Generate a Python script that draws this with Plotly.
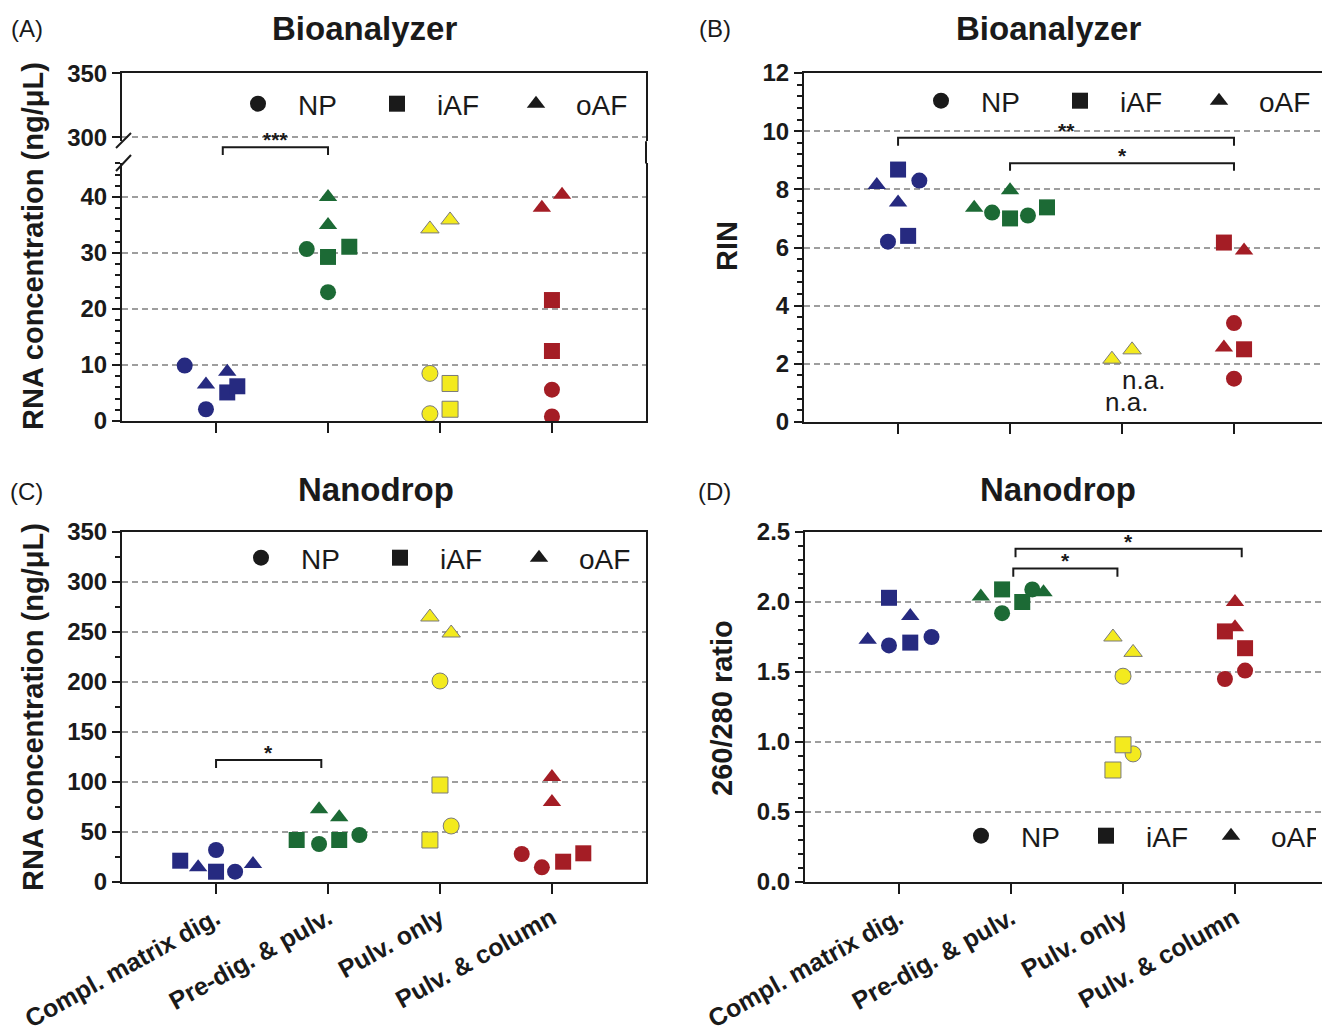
import plotly.graph_objects as go

W, H = 1322, 1026
FONT = "Liberation Sans, Arial, Helvetica, sans-serif"

categories = ["Compl. matrix dig.", "Pre-dig. & pulv.", "Pulv. only", "Pulv. & column"]
cat_colors = ["#262A80", "#1C6A35", "#F3EA1E", "#A41D25"]
cat_edge = ["#262A80", "#1C6A35", "#7A7A7A", "#A41D25"]
tissues = ["NP", "iAF", "oAF"]
tissue_symbols = {"NP": "circle", "iAF": "square", "oAF": "triangle-up"}

# ---- Panel A: Bioanalyzer RNA concentration (ng/uL) ----
a_cat = [0, 0, 0, 0, 0, 0, 1, 1, 1, 1, 1, 1, 2, 2, 2, 2, 2, 2, 3, 3, 3, 3, 3, 3]
a_tis = ["NP", "oAF", "NP", "oAF", "iAF", "iAF",
         "oAF", "oAF", "NP", "iAF", "iAF", "NP",
         "oAF", "oAF", "NP", "iAF", "NP", "iAF",
         "oAF", "oAF", "iAF", "iAF", "NP", "NP"]
a_val = [9.9, 6.5, 2.1, 8.8, 5.1, 6.2,
         40.0, 35.0, 30.7, 29.3, 31.1, 23.0,
         34.3, 35.9, 8.5, 6.7, 1.3, 2.1,
         38.1, 40.4, 21.6, 12.5, 5.6, 0.8]
a_off = [-0.28, -0.09, -0.09, 0.10, 0.10, 0.19,
         0.0, 0.0, -0.19, 0.0, 0.19, 0.0,
         -0.09, 0.09, -0.09, 0.09, -0.09, 0.09,
         -0.09, 0.09, 0.0, 0.0, 0.0, 0.0]

# ---- Panel B: Bioanalyzer RIN ----
b_cat = [0, 0, 0, 0, 0, 0, 1, 1, 1, 1, 1, 1, 2, 2, 3, 3, 3, 3, 3, 3]
b_tis = ["oAF", "iAF", "NP", "oAF", "NP", "iAF",
         "oAF", "NP", "iAF", "NP", "iAF", "oAF",
         "oAF", "oAF",
         "iAF", "oAF", "NP", "oAF", "iAF", "NP"]
b_val = [8.15, 8.68, 8.3, 7.55, 6.2, 6.4,
         7.37, 7.2, 7.0, 7.1, 7.38, 7.97,
         2.16, 2.48,
         6.17, 5.9, 3.4, 2.56, 2.5, 1.49]
b_off = [-0.19, 0.0, 0.19, 0.0, -0.09, 0.09,
         -0.32, -0.16, 0.0, 0.16, 0.33, 0.0,
         -0.09, 0.09,
         -0.09, 0.09, 0.0, -0.09, 0.09, 0.0]

# ---- Panel C: Nanodrop RNA concentration (ng/uL) ----
c_cat = a_cat
c_tis = ["iAF", "oAF", "NP", "iAF", "NP", "oAF",
         "iAF", "NP", "oAF", "oAF", "iAF", "NP",
         "oAF", "oAF", "NP", "iAF", "NP", "iAF",
         "oAF", "oAF", "NP", "NP", "iAF", "iAF"]
c_val = [21.3, 14.7, 32.0, 10.3, 10.3, 18.0,
         42.0, 38.0, 72.7, 64.7, 42.0, 47.0,
         265.0, 249.0, 201.0, 97.0, 56.0, 42.0,
         105.0, 80.0, 28.0, 14.7, 20.3, 28.7]
c_off = [-0.32, -0.16, 0.0, 0.0, 0.17, 0.33,
         -0.28, -0.08, -0.08, 0.10, 0.10, 0.28,
         -0.09, 0.10, 0.0, 0.0, 0.10, -0.09,
         0.0, 0.0, -0.27, -0.09, 0.10, 0.28]

# ---- Panel D: Nanodrop 260/280 ratio ----
d_cat = a_cat
d_tis = ["iAF", "oAF", "oAF", "NP", "iAF", "NP",
         "oAF", "iAF", "NP", "iAF", "NP", "oAF",
         "oAF", "oAF", "NP", "iAF", "NP", "iAF",
         "oAF", "oAF", "iAF", "iAF", "NP", "NP"]
d_val = [2.03, 1.90, 1.73, 1.69, 1.71, 1.75,
         2.04, 2.09, 1.92, 2.00, 2.09, 2.07,
         1.75, 1.64, 1.47, 0.98, 0.915, 0.80,
         2.00, 1.82, 1.79, 1.67, 1.45, 1.51]
d_off = [-0.09, 0.10, -0.28, -0.09, 0.10, 0.29,
         -0.27, -0.08, -0.08, 0.10, 0.19, 0.29,
         -0.09, 0.09, 0.0, 0.0, 0.09, -0.09,
         0.0, 0.0, -0.09, 0.09, -0.09, 0.09]

# significance brackets: (x_start, x_end, y_line, y_tick_end, label)
a_sig = [(0.06, 1.0, 48.9, 47.5, "***")]
b_sig = [(0.0, 3.0, 9.77, 9.5, "**"), (1.0, 3.0, 8.9, 8.64, "*")]
c_sig = [(0.0, 0.94, 122, 114, "*")]
d_sig = [(1.04, 3.06, 2.38, 2.32, "*"), (1.02, 1.95, 2.24, 2.18, "*")]


def fx(px):
    return px / W


def fy(py):
    return 1 - py / H


fig = go.Figure()


def add_points(cats, tis, vals, offs, xa, ya):
    for ci in range(len(categories)):
        for t in tissues:
            xs = [c + o for c, tt, o in zip(cats, tis, offs) if c == ci and tt == t]
            ys = [v for c, tt, v in zip(cats, tis, vals) if c == ci and tt == t]
            if not xs:
                continue
            fig.add_trace(go.Scatter(
                x=xs, y=ys, mode="markers", xaxis=xa, yaxis=ya, showlegend=False,
                marker=dict(symbol=tissue_symbols[t], size=16, color=cat_colors[ci],
                            line=dict(color=cat_edge[ci], width=1 if ci == 2 else 0)),
                hoverinfo="x+y"))


add_points(a_cat, a_tis, a_val, a_off, "x", "y")
add_points(b_cat, b_tis, b_val, b_off, "x2", "y3")
add_points(c_cat, c_tis, c_val, c_off, "x3", "y4")
add_points(d_cat, d_tis, d_val, d_off, "x4", "y5")
# empty trace to establish the upper (broken) segment of panel A
fig.add_trace(go.Scatter(x=[], y=[], xaxis="x5", yaxis="y2", showlegend=False))

# legend-only entries for each panel
for lg in ["legend", "legend2", "legend3", "legend4"]:
    for t in tissues:
        fig.add_trace(go.Scatter(x=[None], y=[None], mode="markers", name=t, legend=lg,
                                 marker=dict(symbol=tissue_symbols[t], size=16, color="#1a1a1a"),
                                 xaxis="x", yaxis="y"))

# ---- axes ----
GRID = "#9E9E9E"
tickfont = dict(family=FONT, size=24, color="#1a1a1a", weight="bold")
common_y = dict(showline=True, linecolor="#1a1a1a", linewidth=2, ticks="outside",
                ticklen=8, tickwidth=2, tickcolor="#1a1a1a", tickfont=tickfont,
                showgrid=True, gridcolor=GRID, gridwidth=2, griddash="6px,4px",
                zeroline=False, mirror=True, fixedrange=True, automargin=False)
common_x = dict(showline=True, linecolor="#1a1a1a", linewidth=2, ticks="outside",
                ticklen=10, tickwidth=2, tickcolor="#1a1a1a", showgrid=False,
                zeroline=False, tickvals=[0, 1, 2, 3], ticktext=categories,
                fixedrange=True, automargin=False)

A_X = (122, 646)
A_Y_LOW = (421, 163.4)
A_Y_UP = (141.2, 73.4)
B_X = (804, 1322)
B_Y = (422, 73)
C_X = (122, 646)
C_Y = (882, 532)
D_X = (805, 1322)
D_Y = (882, 532)

xfont = dict(family=FONT, size=25, color="#1a1a1a", weight="bold")

fig.update_layout(
    xaxis=dict(common_x, domain=[fx(A_X[0]), fx(A_X[1])], range=[-0.84, 3.84],
               anchor="y", showticklabels=False, mirror=False),
    yaxis=dict(common_y, domain=[fy(A_Y_LOW[0]), fy(A_Y_LOW[1])], range=[0, 46],
               anchor="x", tickvals=[0, 10, 20, 30, 40],
               minor=dict(dtick=2, ticks="outside", ticklen=5, tickwidth=1.5,
                          tickcolor="#1a1a1a", showgrid=False)),
    yaxis2=dict(common_y, domain=[fy(A_Y_UP[0]), fy(A_Y_UP[1])], range=[297, 350],
                anchor="x5", tickvals=[300, 350]),
    xaxis5=dict(domain=[fx(A_X[0]), fx(A_X[1])], range=[-0.84, 3.84], anchor="y2",
                side="top", showline=True, linecolor="#1a1a1a", linewidth=2,
                showticklabels=False, ticks="", showgrid=False, zeroline=False,
                fixedrange=True, automargin=False),
    xaxis2=dict(common_x, domain=[fx(B_X[0]), 1.0], range=[-0.84, 3.786],
                anchor="y3", showticklabels=False, mirror=True),
    yaxis3=dict(common_y, domain=[fy(B_Y[0]), fy(B_Y[1])], range=[0, 12],
                anchor="x2", dtick=2,
                minor=dict(dtick=0.4, ticks="outside", ticklen=5, tickwidth=1.5,
                           tickcolor="#1a1a1a", showgrid=False)),
    xaxis3=dict(common_x, domain=[fx(C_X[0]), fx(C_X[1])], range=[-0.84, 3.84],
                anchor="y4", tickangle=-29, tickfont=xfont, mirror=True),
    yaxis4=dict(common_y, domain=[fy(C_Y[0]), fy(C_Y[1])], range=[0, 350],
                anchor="x3", dtick=50,
                minor=dict(dtick=25, ticks="outside", ticklen=5, tickwidth=1.5,
                           tickcolor="#1a1a1a", showgrid=False)),
    xaxis4=dict(common_x, domain=[fx(D_X[0]), 1.0], range=[-0.84, 3.777],
                anchor="y5", tickangle=-29, tickfont=xfont, mirror=True),
    yaxis5=dict(common_y, domain=[fy(D_Y[0]), fy(D_Y[1])], range=[0, 2.5],
                anchor="x4", dtick=0.5, tickformat=".1f",
                minor=dict(dtick=0.1, ticks="outside", ticklen=5, tickwidth=1.5,
                           tickcolor="#1a1a1a", showgrid=False)),
)

# ---- legends ----
leg_common = dict(orientation="h", font=dict(family=FONT, size=28, color="#1a1a1a"),
                  bgcolor="rgba(0,0,0,0)", itemwidth=70, xanchor="left",
                  yanchor="middle", itemclick=False, itemdoubleclick=False,
                  tracegroupgap=0)
fig.update_layout(
    legend=dict(leg_common, x=fx(258 - 40), y=fy(104), entrywidth=54),
    legend2=dict(leg_common, x=fx(941 - 40), y=fy(101), entrywidth=54),
    legend3=dict(leg_common, x=fx(261 - 40), y=fy(558), entrywidth=54),
    legend4=dict(leg_common, x=fx(981 - 40), y=fy(836), entrywidth=40),
)

shapes = []
annotations = []


def bracket(sig, xa, ya, to_y=None):
    for x0, x1, yl, yt, lab in sig:
        yref = ya
        if to_y is not None:
            yl_, yt_ = to_y(yl), to_y(yt)
            yref = "paper"
        else:
            yl_, yt_ = yl, yt
        shapes.append(dict(type="path", xref=xa, yref=yref,
                           path=f"M {x0} {yt_} L {x0} {yl_} L {x1} {yl_} L {x1} {yt_}",
                           line=dict(color="#1a1a1a", width=2)))
        annotations.append(dict(x=(x0 + x1) / 2, y=yl_, xref=xa, yref=yref,
                                text=f"<b>{lab}</b>", showarrow=False,
                                xanchor="center", yanchor="bottom",
                                yshift=-6, font=dict(family=FONT, size=21, color="#1a1a1a")))


def a_low_to_paper(v):
    d0, d1 = fy(A_Y_LOW[0]), fy(A_Y_LOW[1])
    return d0 + (d1 - d0) * v / 46.0


bracket(a_sig, "x", "y", a_low_to_paper)
bracket(b_sig, "x2", "y3")
bracket(c_sig, "x3", "y4")
bracket(d_sig, "x4", "y5")

# axis break marks on panel A
for (px0, py0, px1, py1) in [(116, 148, 131, 133), (116, 171, 131, 155)]:
    shapes.append(dict(type="line", xref="paper", yref="paper", x0=fx(px0), y0=fy(py0),
                       x1=fx(px1), y1=fy(py1), line=dict(color="#1a1a1a", width=2)))
# continuous right frame of panel A across the break
shapes.append(dict(type="line", xref="paper", yref="paper", x0=fx(A_X[1]), x1=fx(A_X[1]),
                   y0=fy(A_Y_UP[0]), y1=fy(A_Y_LOW[1]), line=dict(color="#1a1a1a", width=2)))

# n.a. labels (panel B, Pulv. only)
annotations.append(dict(x=2.19, y=1.45, xref="x2", yref="y3", text="n.a.", showarrow=False,
                        xanchor="center", yanchor="middle",
                        font=dict(family=FONT, size=26, color="#1a1a1a")))
annotations.append(dict(x=2.04, y=0.68, xref="x2", yref="y3", text="n.a.", showarrow=False,
                        xanchor="center", yanchor="middle",
                        font=dict(family=FONT, size=26, color="#1a1a1a")))

# titles
for txt, px, py in [("Bioanalyzer", 365, 28), ("Bioanalyzer", 1048, 28),
                    ("Nanodrop", 376, 489), ("Nanodrop", 1058, 489)]:
    annotations.append(dict(x=fx(px), y=fy(py), xref="paper", yref="paper",
                            text=f"<b>{txt}</b>", showarrow=False,
                            xanchor="center", yanchor="middle",
                            font=dict(family=FONT, size=33, color="#1a1a1a")))
# panel letters
for txt, px, py in [("(A)", 27, 28), ("(B)", 715, 28), ("(C)", 27, 491), ("(D)", 715, 491)]:
    annotations.append(dict(x=fx(px), y=fy(py), xref="paper", yref="paper", text=txt,
                            showarrow=False, xanchor="center", yanchor="middle",
                            font=dict(family=FONT, size=24, color="#1a1a1a")))
# y-axis titles
for txt, px, py in [("RNA concentration (ng/μL)", 33, 246), ("RIN", 727, 246),
                    ("RNA concentration (ng/μL)", 33, 707), ("260/280 ratio", 722, 708)]:
    annotations.append(dict(x=fx(px), y=fy(py), xref="paper", yref="paper",
                            text=f"<b>{txt}</b>", showarrow=False, textangle=-90,
                            xanchor="center", yanchor="middle",
                            font=dict(family=FONT, size=29, color="#1a1a1a")))

fig.update_layout(
    width=W, height=H, margin=dict(l=0, r=0, t=0, b=0, autoexpand=False),
    paper_bgcolor="white", plot_bgcolor="white",
    shapes=shapes, annotations=annotations,
    font=dict(family=FONT, color="#1a1a1a"),
)

fig.write_html("out.html", config={"displayModeBar": False},
               post_script="document.body.style.margin='0';")
